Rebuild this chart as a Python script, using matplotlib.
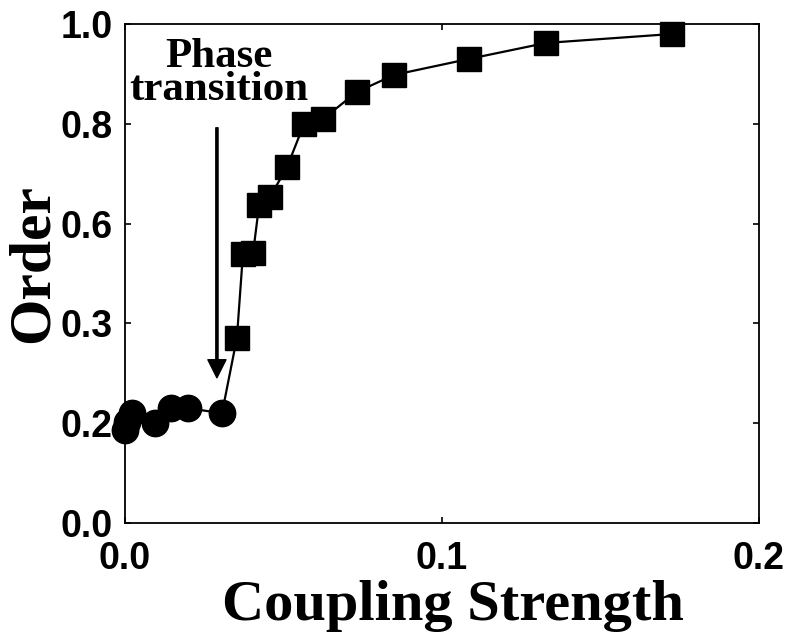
import matplotlib
matplotlib.use("Agg")
import matplotlib.pyplot as plt

# Data
circle_x = [0.0, 0.0005, 0.0022, 0.0095, 0.0145, 0.0199, 0.0306]
circle_y = [0.186, 0.202, 0.220, 0.200, 0.230, 0.230, 0.220]
square_x = [0.0353, 0.0372, 0.0404, 0.0423, 0.0457, 0.0511, 0.0565, 0.0625,
            0.0732, 0.0849, 0.1085, 0.1328, 0.1726]
square_y = [0.371, 0.539, 0.541, 0.637, 0.653, 0.713, 0.800, 0.810,
            0.864, 0.898, 0.930, 0.962, 0.980]
ytick_pos = [0.0, 0.2, 0.4, 0.6, 0.8, 1.0]
ytick_labels = ["0.0", "0.2", "0.3", "0.6", "0.8", "1.0"]
xtick_pos = [0.0, 0.1, 0.2]
xtick_labels = ["0.0", "0.1", "0.2"]
arrow_x = 0.029
arrow_y_start = 0.792
arrow_y_end = 0.291

serif = ["Liberation Serif", "DejaVu Serif"]
sans = ["Liberation Sans", "DejaVu Sans"]

fig = plt.figure(figsize=(7.9, 6.34), dpi=100)
ax = fig.add_axes([125 / 790, 1 - 523 / 634, (759 - 125) / 790, (523 - 24) / 634])

all_x = circle_x + square_x
all_y = circle_y + square_y
ax.plot(all_x, all_y, color="black", lw=1.6, zorder=2)
ax.plot(circle_x, circle_y, "o", color="black", ms=19, clip_on=False, zorder=4)
ax.plot(square_x, square_y, "s", color="black", ms=17, clip_on=False, zorder=4)

ax.set_xlim(0, 0.2)
ax.set_ylim(0, 1.0)

ax.set_yticks(ytick_pos)
ax.set_yticklabels(ytick_labels)
ax.set_xticks(xtick_pos)
ax.set_xticklabels(xtick_labels)

ax.tick_params(axis="both", direction="in", length=4, width=1.2,
               top=True, right=True, labelsize=27)
ax.tick_params(axis="y", pad=9)
ax.tick_params(axis="x", pad=13)
for lab in ax.get_xticklabels() + ax.get_yticklabels():
    lab.set_family(sans)
    lab.set_fontweight("bold")

for sp in ax.spines.values():
    sp.set_linewidth(1.3)

fig.text(453 / 790, 1 - 620 / 634, "Coupling Strength", family=serif,
         fontweight="bold", fontsize=42, ha="center", va="baseline")
fig.text(48 / 790, 1 - 264 / 634, "Order", family=serif, fontweight="bold",
         fontsize=43, ha="center", va="baseline", rotation=90,
         rotation_mode="anchor")

fig.text(219 / 790, 1 - 100 / 634, "Phase\ntransition", family=serif,
         fontweight="bold", fontsize=31, ha="center", va="baseline",
         multialignment="center", linespacing=0.83)

ax.annotate("", xy=(arrow_x, arrow_y_end), xytext=(arrow_x, arrow_y_start),
            arrowprops=dict(facecolor="black", edgecolor="black", width=1.6,
                            headwidth=13, headlength=13, shrink=0))

fig.savefig("out.png", dpi=100)
